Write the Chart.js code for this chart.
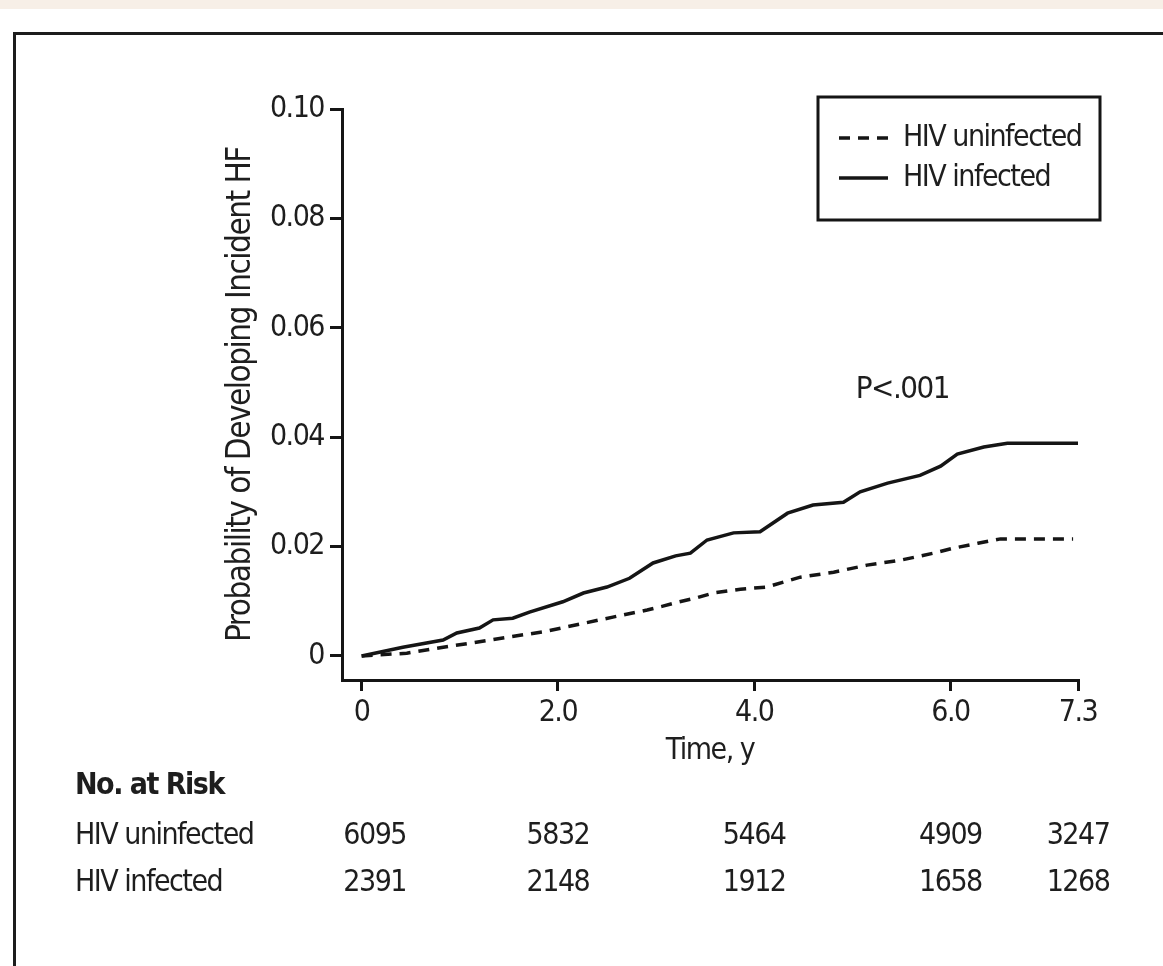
<!DOCTYPE html>
<html>
<head>
<meta charset="utf-8">
<script src="https://cdn.jsdelivr.net/npm/chart.js@4.4.1/dist/chart.umd.min.js"></script>
<style>
  html, body { margin: 0; padding: 0; background: #ffffff; }
  #wrap { position: relative; width: 1163px; height: 966px; overflow: hidden; background: #ffffff; }
  #strip { position: absolute; left: 0; top: 0; width: 1163px; height: 9px; background: #f7efe7; }
  #frame { position: absolute; left: 13px; top: 32px; width: 1200px; height: 1000px;
           border-top: 3px solid #1d1d1d; border-left: 3px solid #1d1d1d; }
  canvas { position: absolute; left: 0; top: 0; }
</style>
</head>
<body>
<div id="wrap">
  <div id="strip"></div>
  <div id="frame"></div>
  <canvas id="c" width="1163" height="966"></canvas>
</div>
<script>
// ---------------- data ----------------
const xTickValues = [0, 2, 4, 6, 7.3];
const xTickLabels = ['0', '2.0', '4.0', '6.0', '7.3'];
const yTickValues = [0, 0.02, 0.04, 0.06, 0.08, 0.10];
const yTickLabels = ['0', '0.02', '0.04', '0.06', '0.08', '0.10'];

const seriesNames = ['HIV uninfected', 'HIV infected'];

const uninfectedTimes = [0, 0.46, 0.8, 1.13, 1.51, 1.85, 2.22, 2.56, 2.91, 3.07, 3.24, 3.41, 3.58, 3.86, 4.13, 4.47, 4.81, 5.15, 5.49, 5.83, 6.03, 6.28, 6.51, 7.25];
const uninfectedProb  = [0, 0.0005, 0.0015, 0.0024, 0.0035, 0.0044, 0.0058, 0.0071, 0.0084, 0.0091, 0.0099, 0.0106, 0.0115, 0.0122, 0.0126, 0.0144, 0.0153, 0.0166, 0.0175, 0.0188, 0.0197, 0.0206, 0.0214, 0.0214];

const infectedTimes = [0, 0.42, 0.83, 0.97, 1.2, 1.34, 1.54, 1.71, 2.05, 2.26, 2.5, 2.73, 2.97, 3.2, 3.35, 3.52, 3.79, 4.06, 4.34, 4.6, 4.91, 5.08, 5.36, 5.69, 5.9, 6.07, 6.34, 6.58, 7.3];
const infectedProb  = [0, 0.0016, 0.0029, 0.0042, 0.0051, 0.0066, 0.0069, 0.008, 0.0099, 0.0115, 0.0126, 0.0142, 0.017, 0.0183, 0.0188, 0.0212, 0.0225, 0.0227, 0.0261, 0.0276, 0.0281, 0.03, 0.0316, 0.033, 0.0347, 0.0369, 0.0382, 0.0389, 0.0389];

const riskTimes = [0, 2, 4, 6, 7.3];
const riskUninfected = [6095, 5832, 5464, 4909, 3247];
const riskInfected = [2391, 2148, 1912, 1658, 1268];

const riskTitle = 'No. at Risk';
const pValueText = 'P<.001';
const xTitle = 'Time, y';
const yTitle = 'Probability of Developing Incident HF';

// ---------------- styling ----------------
const FF = "'Liberation Sans Narrow', 'Arial Narrow', 'DejaVu Sans Condensed', 'Roboto Condensed', 'Liberation Sans', sans-serif";
const INK = '#1e1e1e';
const LINE = '#151515';
const SPACING = '-1.5px';
const FS = 30;
const DASH = [11, 8];
const LW = 3.5;

const toXY = (ts, ps) => ts.map((t, i) => ({ x: t, y: ps[i] }));

// tighter letter spacing to mimic the condensed typeface
const tightText = {
  id: 'tightText',
  beforeLayout(chart) { chart.ctx.letterSpacing = SPACING; },
  beforeDraw(chart) { chart.ctx.letterSpacing = SPACING; }
};

// place the legend in the upper right of the plot, with a framed box
const legendPlacer = {
  id: 'legendPlacer',
  afterLayout(chart) {
    const lg = chart.legend, ca = chart.chartArea;
    if (!lg) return;
    const w = 262, h = 112;
    lg.left = ca.right - 249;
    lg.top = ca.top + 4;
    lg.width = w; lg.height = h;
    lg.right = lg.left + w; lg.bottom = lg.top + h;
  },
  afterDraw(chart) {
    const lg = chart.legend, ca = chart.chartArea, ctx = chart.ctx;
    if (!lg) return;
    ctx.save();
    ctx.setLineDash([]);
    ctx.strokeStyle = LINE;
    ctx.lineWidth = 3;
    const x0 = lg.left - 11, y0 = lg.top - 16;
    const x1 = ca.right + 22, y1 = lg.top + 107;
    ctx.strokeRect(x0, y0, x1 - x0, y1 - y0);
    ctx.restore();
  }
};

// number-at-risk table and p-value annotation
const extras = {
  id: 'extras',
  afterDraw(chart) {
    const { ctx } = chart;
    const xs = chart.scales.x, ys = chart.scales.y;
    ctx.save();
    ctx.letterSpacing = SPACING;
    ctx.fillStyle = INK;
    ctx.textBaseline = 'middle';

    // p value
    ctx.font = `31px ${FF}`;
    ctx.textAlign = 'center';
    ctx.fillText(pValueText, xs.getPixelForValue(5.51), ys.getPixelForValue(0.0486));

    // risk table
    ctx.font = `bold ${FS}px ${FF}`;
    ctx.textAlign = 'left';
    ctx.fillText(riskTitle, 75, 786);
    ctx.font = `${FS}px ${FF}`;
    const rows = [[seriesNames[0], riskUninfected, 836], [seriesNames[1], riskInfected, 883]];
    rows.forEach(([name, vals, y]) => {
      ctx.textAlign = 'left';
      ctx.fillText(name, 75, y);
      ctx.textAlign = 'center';
      vals.forEach((v, i) => {
        const px = xs.getPixelForValue(riskTimes[i]) + (i === 0 ? 13 : 0);
        ctx.fillText(String(v), px, y);
      });
    });
    ctx.restore();
  }
};

const tickFont = { family: FF, size: FS, lineHeight: 1 };

new Chart(document.getElementById('c').getContext('2d'), {
  type: 'line',
  data: {
    datasets: [
      {
        label: seriesNames[0],
        data: toXY(uninfectedTimes, uninfectedProb),
        borderColor: LINE, backgroundColor: LINE,
        borderWidth: LW, borderDash: DASH,
        pointRadius: 0, tension: 0, fill: false
      },
      {
        label: seriesNames[1],
        data: toXY(infectedTimes, infectedProb),
        borderColor: LINE, backgroundColor: LINE,
        borderWidth: LW,
        pointRadius: 0, tension: 0, fill: false
      }
    ]
  },
  options: {
    responsive: false,
    animation: false,
    devicePixelRatio: 1,
    layout: { padding: { left: 221, top: 109, right: 85, bottom: 196 } },
    plugins: {
      legend: {
        position: 'chartArea',
        align: 'start',
        labels: {
          usePointStyle: true, pointStyle: 'line', pointStyleWidth: 49,
          boxWidth: 49, boxHeight: 10, padding: 10,
          color: INK,
          font: { family: FF, size: FS, lineHeight: 1 },
          generateLabels: (chart) =>
            Chart.defaults.plugins.legend.labels.generateLabels(chart).map((item) => {
              const ds = chart.data.datasets[item.datasetIndex];
              return Object.assign(item, {
                lineDash: ds.borderDash || [],
                lineWidth: ds.borderWidth,
                strokeStyle: ds.borderColor,
                fillStyle: 'rgba(0,0,0,0)',
                pointStyle: 'line'
              });
            })
        }
      },
      tooltip: { enabled: false },
      title: { display: false }
    },
    scales: {
      x: {
        type: 'linear',
        min: -0.2, max: 7.3,
        afterBuildTicks: (s) => { s.ticks = xTickValues.map(v => ({ value: v })); },
        afterFit: (s) => { s.height = 90; },
        ticks: {
          autoSkip: false, maxRotation: 0, minRotation: 0, padding: 7,
          color: INK, font: tickFont,
          callback: (v, i) => xTickLabels[i]
        },
        grid: { drawOnChartArea: false, drawTicks: true, tickLength: 11, lineWidth: 3, color: LINE },
        border: { display: true, width: 3, color: LINE },
        title: { display: true, text: xTitle, color: INK, font: { family: FF, size: FS, lineHeight: 1 }, padding: { top: 0, bottom: 4 } }
      },
      y: {
        type: 'linear',
        min: -0.0044, max: 0.10,
        afterBuildTicks: (s) => { s.ticks = yTickValues.map(v => ({ value: v })); },
        afterFit: (s) => { s.width = 121; },
        ticks: {
          autoSkip: false, padding: 6,
          color: INK, font: tickFont,
          callback: (v, i) => yTickLabels[i]
        },
        grid: { drawOnChartArea: false, drawTicks: true, tickLength: 12, lineWidth: 3, color: LINE },
        border: { display: true, width: 3, color: LINE },
        title: { display: true, text: yTitle, color: INK, font: { family: FF, size: 33, lineHeight: 1 }, padding: { top: 4, bottom: 0 } }
      }
    }
  },
  plugins: [tightText, legendPlacer, extras]
});
</script>
</body>
</html>
